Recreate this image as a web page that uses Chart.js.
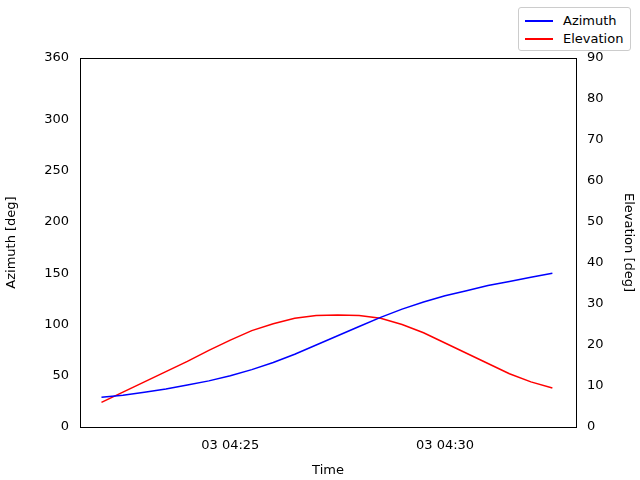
<!DOCTYPE html>
<html>
<head>
<meta charset="utf-8">
<script src="https://cdn.jsdelivr.net/npm/chart.js@4"></script>
<style>
  body { margin: 0; background: #fff; }
  #wrap { position: relative; width: 640px; height: 480px; }
  #legend { position: absolute; left: 518px; top: 7px; width: 113px; height: 44px; border: 1px solid #ccc;
    border-radius: 3px; background: #fff; font: 13px "DejaVu Sans", sans-serif; box-sizing: border-box; padding: 4px 6px; }
  #legend div { height: 18px; line-height: 18px; display: flex; align-items: center; }
  #legend span { display: inline-block; width: 28px; height: 2px; margin-right: 10px; }
</style>
</head>
<body>
<div id="wrap">
<canvas id="my-chart" width="640" height="480"></canvas>
<div id="legend">
  <div><span style="background:blue"></span>Azimuth</div>
  <div><span style="background:red"></span>Elevation</div>
</div>
</div>
<script>
'use strict';

/* DATA: minutes after 04:00 on day 03, sampled every 30 s */
let times = [22, 22.5, 23, 23.5, 24, 24.5, 25, 25.5, 26, 26.5, 27, 27.5, 28, 28.5, 29, 29.5, 30, 30.5, 31, 31.5, 32, 32.5];
let azimuth = [29, 31, 34, 37, 41, 45, 50, 56, 63, 71, 80, 89, 98, 107, 115, 122, 128, 133, 138, 142, 146, 150];
let elevation = [6, 8.5, 11, 13.5, 16, 18.7, 21.2, 23.5, 25.2, 26.5, 27.2, 27.3, 27.2, 26.5, 25, 23, 20.5, 18, 15.5, 13, 11, 9.5];
let timeTicks = [25, 30];

let canvasElem = document.getElementById('my-chart').getContext('2d');
Chart.defaults.font.family = 'DejaVu Sans';
Chart.defaults.font.size = 13;
Chart.defaults.color = '#000000';

function fixWidth(w) {
  return function (axis) { axis.width = w; };
}

new Chart(canvasElem, {
  type: 'line',
  data: {
    datasets: [
      {
        label: 'Azimuth',
        data: times.map((t, i) => ({ x: t, y: azimuth[i] })),
        borderColor: 'blue', borderWidth: 1.5, pointRadius: 0, yAxisID: 'y',
      },
      {
        label: 'Elevation',
        data: times.map((t, i) => ({ x: t, y: elevation[i] })),
        borderColor: 'red', borderWidth: 1.5, pointRadius: 0, yAxisID: 'y2',
      },
    ],
  },
  options: {
    responsive: false,
    animation: false,
    layout: { padding: { top: 58, left: 0, right: 0, bottom: 0 } },
    plugins: { legend: { display: false }, tooltip: { enabled: false } },
    scales: {
      x: {
        type: 'linear', min: 21.5, max: 33.05,
        grid: { display: false, drawTicks: true },
        border: { color: '#000' },
        ticks: { autoSkip: false, callback: (v) => '03 04:' + v },
        afterBuildTicks: (axis) => { axis.ticks = timeTicks.map((v) => ({ value: v })); },
        afterFit: (axis) => { axis.height = 53; },
        title: { display: true, text: 'Time', padding: 2 },
      },
      y: {
        position: 'left', min: 0, max: 360,
        grid: { display: false },
        border: { color: '#000' },
        ticks: { stepSize: 50 },
        afterFit: fixWidth(80),
        title: { display: true, text: 'Azimuth [deg]' },
      },
      y2: {
        position: 'right', min: 0, max: 90,
        grid: { display: false },
        border: { color: '#000' },
        ticks: { stepSize: 10 },
        afterFit: fixWidth(64),
        title: { display: true, text: 'Elevation [deg]' },
      },
    },
  },
  plugins: [{
    id: 'topBorder',
    afterDraw(chart) {
      let a = chart.chartArea, c = chart.ctx;
      c.save(); c.strokeStyle = '#000'; c.lineWidth = 1;
      c.beginPath(); c.moveTo(a.left, a.top + 0.5); c.lineTo(a.right, a.top + 0.5); c.stroke();
      c.restore();
    },
  }],
});
</script>
</body>
</html>
